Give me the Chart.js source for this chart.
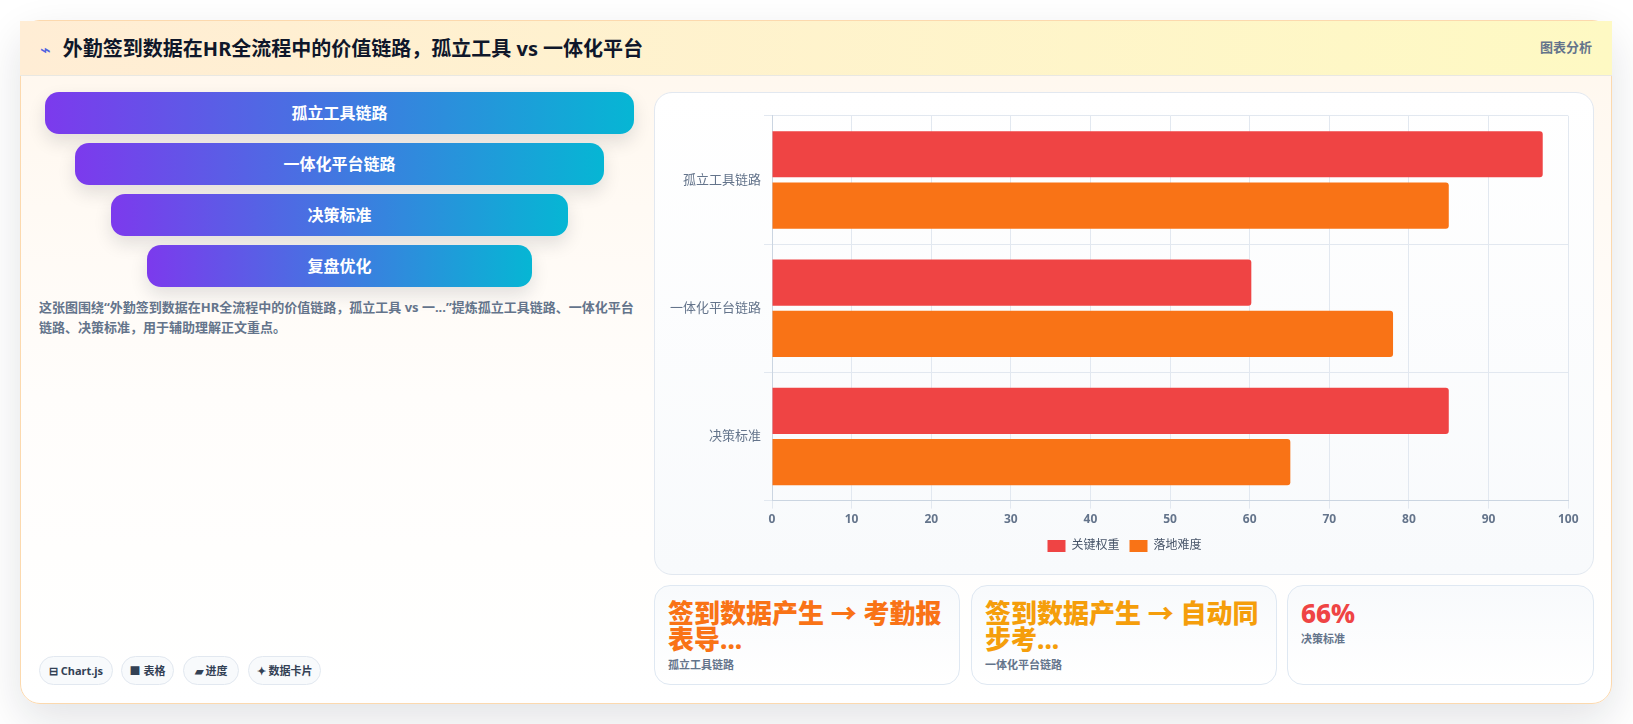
<!DOCTYPE html>
<html lang="zh-CN">
<head>
<meta charset="utf-8">
<title>外勤签到数据在HR全流程中的价值链路</title>
<script src="https://cdn.jsdelivr.net/npm/chart.js@4"></script>
<style>
  * { box-sizing: border-box; }
  html, body { margin: 0; height: 100%; background: #fff; overflow: hidden; }
  body { font-family: "Noto Sans", "Noto Sans CJK SC", sans-serif; position: relative; width: 1633px; height: 724px; }
  .card {
    position: absolute; left: 20px; top: 20px; width: 1592px; height: 684px;
    border: 1px solid #fcd9ae; border-radius: 20px;
    background: linear-gradient(180deg, #fff7ed 0%, #fffdfb 55%, #fff 100%);
    box-shadow: 0 16px 44px rgba(15, 23, 42, .12);
  }
  .head {
    position: absolute; left: -1px; top: 0; width: 1592px; height: 55px;
    background: linear-gradient(90deg, #ffedd5, #fef9c3);
    border-bottom: 1px solid #e9e8e2;
  }
  .head h1 { position: absolute; left: 20px; top: 13px; margin: 0; font-size: 20px; line-height: 30px; font-weight: 700; color: #0f172a; white-space: nowrap; }
  .head h1 i { font-style: normal; color: #4f63e0; font-family: "DejaVu Sans"; font-size: 18px; margin-right: 12px; }
  .head span { position: absolute; right: 20px; top: 17px; font-size: 13px; font-weight: 700; line-height: 18px; color: #64748b; }
  .funnel div {
    position: absolute; height: 42px; border-radius: 14px; color: #fff;
    font-size: 16px; font-weight: 700; line-height: 42px; text-align: center;
    background: linear-gradient(90deg, #7c3aed, #06b6d4);
    box-shadow: 0 8px 18px rgba(15, 23, 42, .12);
  }
  .desc { position: absolute; left: 18px; top: 276px; width: 600px; margin: 0; font-size: 13px; font-weight: 700; line-height: 20px; color: #64748b; }
  .pill {
    position: absolute; top: 635px; height: 29px; border: 1px solid #e2e8f0; border-radius: 15px;
    background: #f8fafc; color: #334155; font-size: 11px; font-weight: 700; line-height: 27px;
    text-align: center; white-space: nowrap;
  }
  .panel {
    position: absolute; left: 633px; top: 71px; width: 940px; height: 483px;
    border: 1px solid #e2e8f0; border-radius: 18px;
    background: linear-gradient(180deg, #fff, #f8fafc);
  }
  .chart-box { position: absolute; left: 12px; top: 12px; width: 915px; height: 457px; }
  .stat {
    position: absolute; top: 564px; height: 100px; border: 1px solid #dfe8f2; border-radius: 16px;
    background: linear-gradient(180deg, #f8fafc, #fff); padding: 14px 13px;
  }
  .stat b { display: block; font-size: 26px; line-height: 26px; font-weight: 800; }
  .stat small { display: block; margin-top: 5px; font-size: 11px; line-height: 16px; font-weight: 700; color: #64748b; }
</style>
</head>
<body>
<div class="card">
  <div class="head">
    <h1><i>⌁</i>外勤签到数据在HR全流程中的价值链路，孤立工具 vs 一体化平台</h1>
    <span>图表分析</span>
  </div>
  <div class="funnel" id="funnel"></div>
  <p class="desc">这张图围绕“外勤签到数据在HR全流程中的价值链路，孤立工具 vs 一...”提炼孤立工具链路、一体化平台链路、决策标准，用于辅助理解正文重点。</p>
  <div id="pills"></div>
  <div class="panel"><div class="chart-box"><canvas id="chart"></canvas></div></div>
  <div id="stats"></div>
</div>
<script>
// Chart data
const categories = ['孤立工具链路', '一体化平台链路', '决策标准'];
const keyWeight = [96.8, 60.2, 85];
const difficulty = [85, 78, 65.1];
const seriesNames = ['关键权重', '落地难度'];
const axisTicks = [0, 10, 20, 30, 40, 50, 60, 70, 80, 90, 100];

// Side content
const funnelSteps = ['孤立工具链路', '一体化平台链路', '决策标准', '复盘优化'];
const funnelBoxes = [[24, 589, 71], [54, 529, 122], [90, 457, 173], [126, 385, 224]];
const pillTexts = ['⊟ Chart.js', '■ 表格', '▰ 进度', '✦ 数据卡片'];
const pillBoxes = [[18, 74], [100, 53], [162, 56], [227, 73]];
const statValues = ['签到数据产生 → 考勤报表导...', '签到数据产生 → 自动同步考...', '66%'];
const statLabels = ['孤立工具链路', '一体化平台链路', '决策标准'];
const statColors = ['#f97316', '#f59e0b', '#ef4444'];
const statBoxes = [[633, 306], [950, 306], [1266, 307]];

document.getElementById('funnel').innerHTML = funnelSteps.map((t, i) => {
  const [x, w, y] = funnelBoxes[i];
  return `<div style="left:${x}px;width:${w}px;top:${y}px">${t}</div>`;
}).join('');

document.getElementById('pills').innerHTML = pillTexts.map((t, i) => {
  const [x, w] = pillBoxes[i];
  return `<div class="pill" style="left:${x}px;width:${w}px">${t}</div>`;
}).join('');

document.getElementById('stats').innerHTML = statValues.map((t, i) => {
  const [x, w] = statBoxes[i];
  return `<div class="stat" style="left:${x}px;width:${w}px"><b style="color:${statColors[i]}">${t}</b><small>${statLabels[i]}</small></div>`;
}).join('');

const tickFont = { family: '"Noto Sans", "Noto Sans CJK SC", sans-serif', size: 13 };

new Chart(document.getElementById('chart').getContext('2d'), {
  type: 'bar',
  data: {
    labels: categories,
    datasets: [{
      label: seriesNames[0],
      data: keyWeight,
      backgroundColor: '#ef4444',
      borderRadius: 3
    }, {
      label: seriesNames[1],
      data: difficulty,
      backgroundColor: '#f97316',
      borderRadius: 3
    }]
  },
  options: {
    indexAxis: 'y',
    responsive: true,
    maintainAspectRatio: false,
    animation: false,
    scales: {
      x: {
        min: 0,
        max: 100,
        afterBuildTicks: axis => { axis.ticks = axisTicks.map(value => ({ value })); },
        grid: { color: '#e2e8f0' },
        border: { color: '#cbd5e1' },
        ticks: { color: '#64748b', padding: 3.5, font: { ...tickFont, size: 12, weight: 'bold' } }
      },
      y: {
        grid: { color: '#e2e8f0' },
        border: { color: '#cbd5e1' },
        ticks: { color: '#64748b', font: tickFont }
      }
    },
    plugins: {
      legend: {
        position: 'bottom',
        labels: { color: '#475569', boxWidth: 18, boxHeight: 12, font: { ...tickFont, size: 12 } }
      },
      tooltip: { enabled: false }
    }
  }
});
</script>
</body>
</html>
